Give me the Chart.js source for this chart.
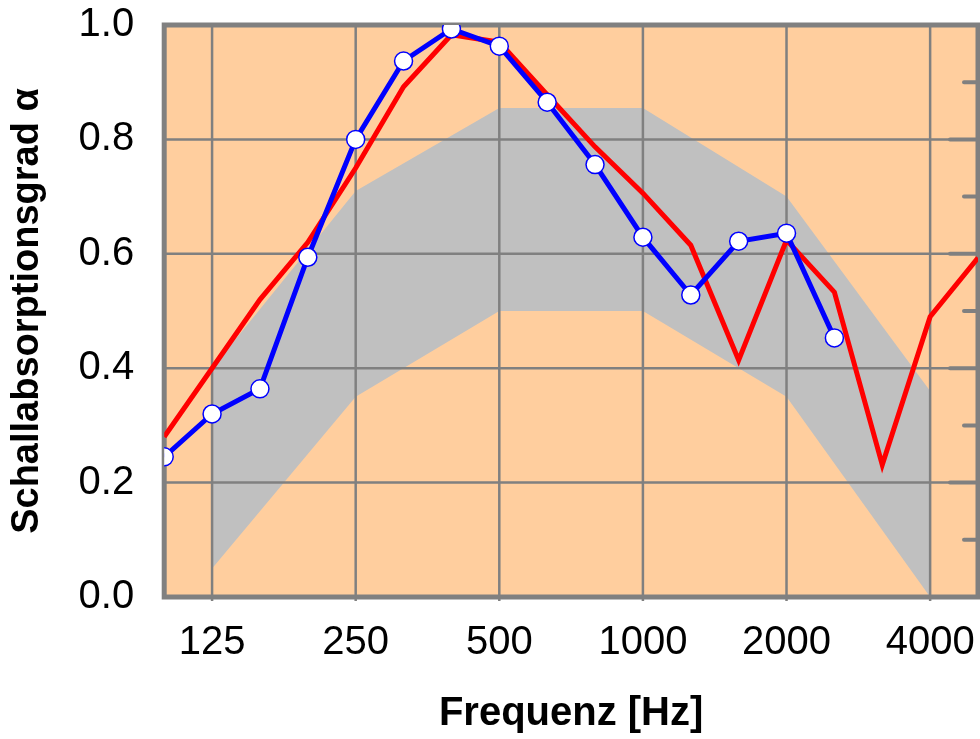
<!DOCTYPE html>
<html>
<head>
<meta charset="utf-8">
<script src="https://cdn.jsdelivr.net/npm/chart.js@4.4.1/dist/chart.umd.min.js"></script>
<style>
  html, body { margin: 0; padding: 0; background: #fff; }
  canvas { display: block; }
</style>
</head>
<body>
<canvas id="chart-absorption" width="980" height="739"></canvas>
<script>
// third-octave band centre frequencies (Hz)
const freqs = ['100','125','160','200','250','315','400','500','630','800','1000','1250','1600','2000','2500','3150','4000','5000'];
const octaveLabels = ['125','250','500','1000','2000','4000'];

// measured absorption (blue, with markers) — stops at 2500 Hz
const measured = [0.245, 0.32, 0.364, 0.594, 0.80, 0.937, 0.993, 0.963, 0.865, 0.756, 0.629, 0.528, 0.622, 0.636, 0.453];
// calculated absorption (red)
const calculated = [0.28, 0.40, 0.52, 0.62, 0.75, 0.892, 0.983, 0.97, 0.878, 0.787, 0.706, 0.615, 0.414, 0.624, 0.533, 0.231, 0.49, 0.593];

// tolerance band (grey), octave points only
const bandFreqs = ['125','250','500','1000','2000','4000'];
const bandUpper = [0.40, 0.71, 0.855, 0.855, 0.70, 0.36];
const bandLower = [0.05, 0.35, 0.50, 0.50, 0.35, 0.0];

const GRID = '#808080';
const FONT = "'Liberation Sans', Arial, sans-serif";

const toPoints = (keys, vals) => vals.map((v, i) => ({ x: freqs.indexOf(keys[i]), y: v }));

// peach plot background, grid drawn over the grey band but under the curves
const plotDecor = {
  id: 'plotDecor',
  beforeDraw(chart) {
    const { ctx, chartArea: a } = chart;
    ctx.save();
    ctx.fillStyle = '#ffce9e';
    ctx.fillRect(a.left, a.top, a.right - a.left, a.bottom - a.top);
    ctx.restore();
  },
  beforeDatasetsDraw(chart) {
    const { ctx, chartArea: a, scales: { x, y } } = chart;
    ctx.save();
    ctx.strokeStyle = GRID;
    ctx.lineWidth = 2.5;
    ctx.beginPath();
    octaveLabels.forEach(f => {
      const px = x.getPixelForValue(freqs.indexOf(f));
      ctx.moveTo(px, a.top); ctx.lineTo(px, a.bottom + 4);
    });
    y.ticks.forEach(t => {
      const py = y.getPixelForValue(t.value);
      ctx.moveTo(a.left, py); ctx.lineTo(a.right, py);
    });
    ctx.stroke();
    // small inward ticks on right edge every 0.1
    ctx.lineWidth = 4;
    ctx.lineCap = 'round';
    ctx.beginPath();
    for (let k = 1; k < 10; k++) {
      const py = y.getPixelForValue(k / 10);
      const len = k % 2 === 0 ? 28 : 14;
      ctx.moveTo(a.right - len, py); ctx.lineTo(a.right, py);
    }
    ctx.stroke();
    ctx.lineCap = 'butt';
    ctx.lineWidth = 5;
    ctx.strokeRect(a.left, a.top, a.right - a.left, a.bottom - a.top);
    ctx.restore();
  }
};

new Chart(document.getElementById('chart-absorption'), {
  type: 'line',
  data: {
    datasets: [
      {
        label: 'Messung',
        data: toPoints(freqs, measured),
        borderColor: '#0000ff',
        borderWidth: 5,
        pointRadius: 9,
        pointBackgroundColor: '#ffffff',
        pointBorderColor: '#0000ff',
        pointBorderWidth: 1.5,
        fill: false,
        tension: 0,
      },
      {
        label: 'Berechnung',
        data: toPoints(freqs, calculated),
        borderColor: '#ff0000',
        borderWidth: 5,
        pointRadius: 0,
        fill: false,
        tension: 0,
      },
      {
        label: 'Band unten',
        data: toPoints(bandFreqs, bandLower),
        borderWidth: 0,
        borderColor: 'rgba(0,0,0,0)',
        pointRadius: 0,
        fill: false,
      },
      {
        label: 'Band oben',
        data: toPoints(bandFreqs, bandUpper),
        borderWidth: 0,
        borderColor: 'rgba(0,0,0,0)',
        backgroundColor: '#c0c0c0',
        pointRadius: 0,
        fill: '-1',
      }
    ]
  },
  options: {
    responsive: false,
    animation: false,
    layout: { autoPadding: false, padding: { top: 25, right: 2, left: 0, bottom: 0 } },
    plugins: {
      legend: { display: false },
      tooltip: { enabled: false },
      filler: { drawTime: 'beforeDatasetsDraw' }
    },
    scales: {
      x: {
        type: 'linear',
        min: 0,
        max: freqs.length - 1,
        // grid hidden; tickLength only used as spacing for the labels
        grid: { display: false, drawTicks: true, tickLength: 22 },
        border: { display: false },
        ticks: {
          stepSize: 1,
          autoSkip: false,
          maxRotation: 0,
          padding: 0,
          color: '#000',
          font: { family: FONT, size: 40 },
          callback: v => octaveLabels.includes(freqs[v]) ? freqs[v] : ''
        },
        title: {
          display: true,
          text: 'Frequenz [Hz]',
          color: '#000',
          font: { family: FONT, size: 40, weight: 'bold' },
          padding: { top: 23, bottom: 1 }
        }
      },
      y: {
        min: 0,
        max: 1,
        grid: { display: false, drawTicks: true, tickLength: 30 },
        border: { display: false },
        ticks: {
          stepSize: 0.2,
          padding: 0,
          color: '#000',
          font: { family: FONT, size: 40 },
          callback: v => v.toFixed(1)
        },
        title: {
          display: true,
          text: 'Schallabsorptionsgrad α',
          color: '#000',
          font: { family: FONT, size: 38, weight: 'bold' },
          padding: { top: 5, bottom: 28 }
        }
      }
    }
  },
  plugins: [plotDecor]
});
</script>
</body>
</html>
